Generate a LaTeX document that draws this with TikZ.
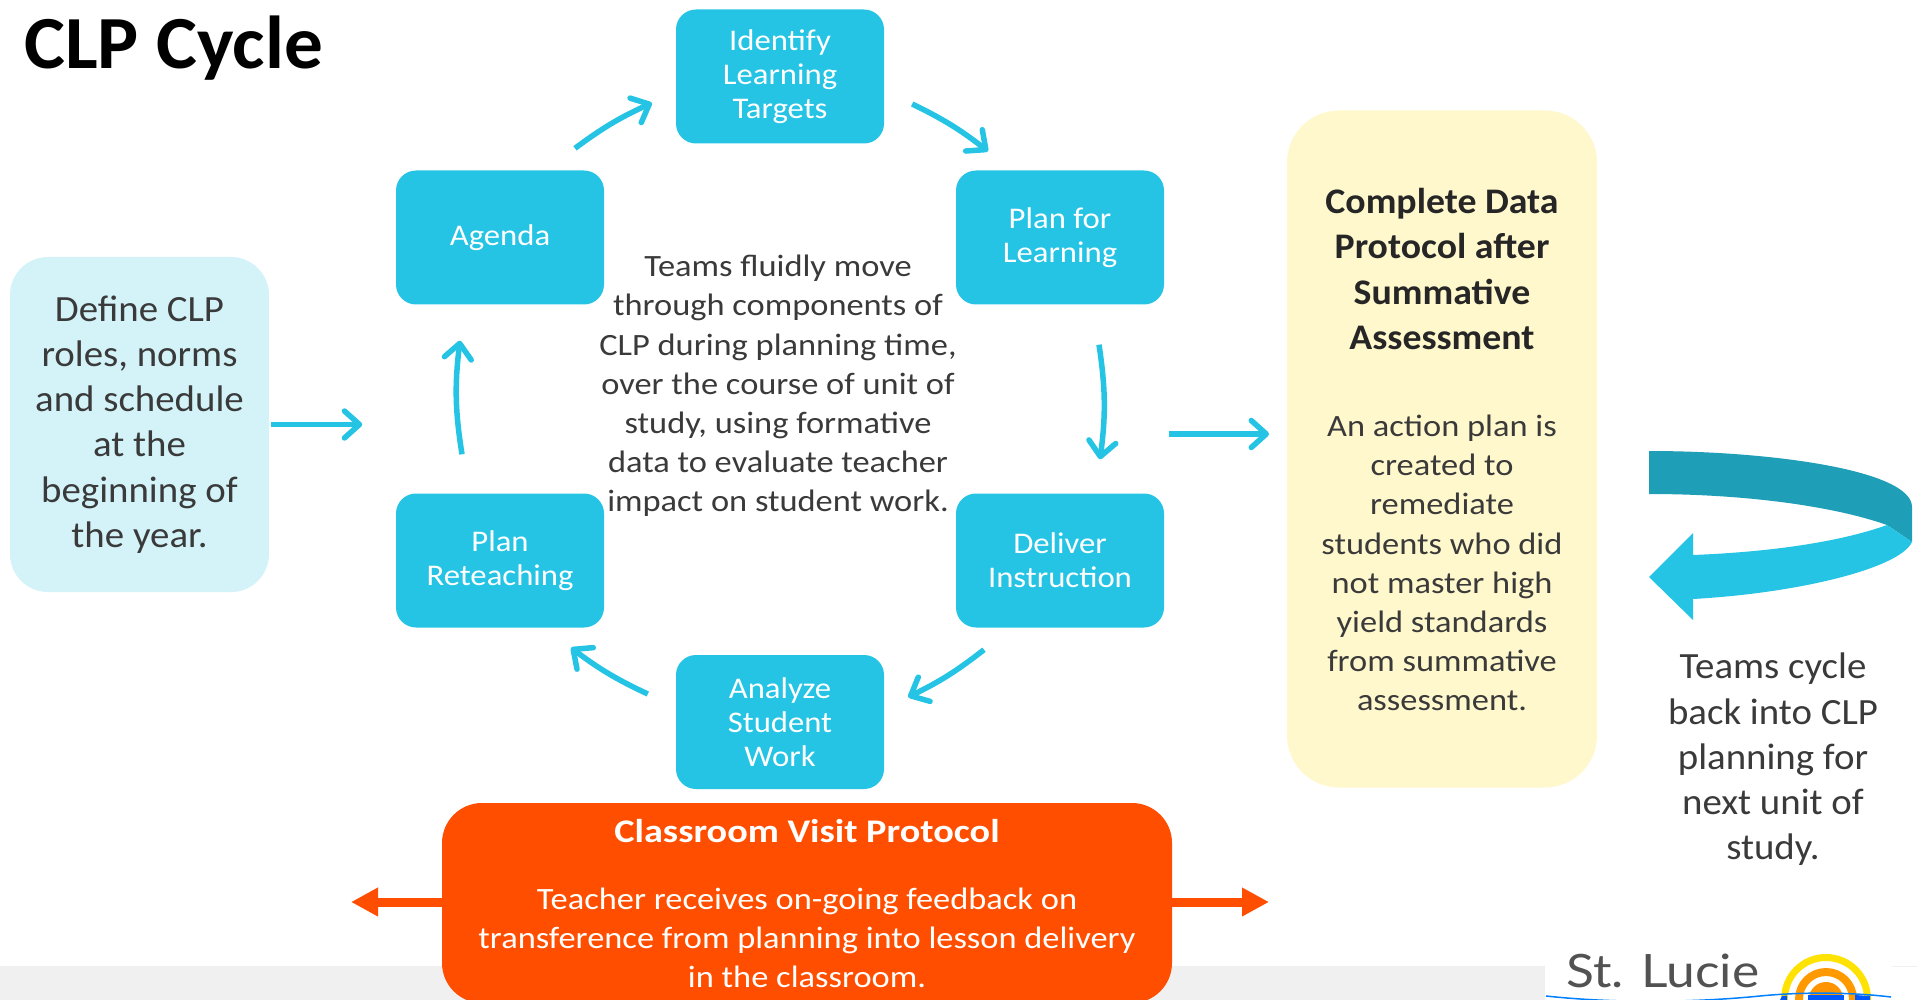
\documentclass[tikz,border=0pt]{standalone}
\usepackage{fontspec}
\setmainfont{Carlito}
\newfontfamily\fnine[FakeStretch=1.09]{Carlito}
\newfontfamily\ften[FakeStretch=1.11]{Carlito}
\newfontfamily\ffive[FakeStretch=1.05]{Carlito}
\newfontfamily\fthree[FakeStretch=1.03]{Carlito}
\newfontfamily\fsix[FakeStretch=1.16]{Carlito}
\newfontfamily\flogo[FakeStretch=1.12]{Lato}
\usetikzlibrary{arrows.meta,calc}
\definecolor{cyanb}{HTML}{25C4E4}
\definecolor{darkb}{HTML}{1F9EB7}
\definecolor{paleb}{HTML}{D3F3F9}
\definecolor{paley}{HTML}{FFF8CC}
\definecolor{orng}{HTML}{FF4E00}
\definecolor{band}{HTML}{F0F0F0}
\definecolor{txt}{HTML}{3A3A3A}
\tikzset{
 cyclebox/.style={fill=cyanb,rounded corners=20pt,minimum width=208pt,minimum height=134pt,align=center,text=white,font=\fnine\fontsize{30}{34}\selectfont,inner sep=0pt},
 cycletxt/.style={yshift=-1pt},
 arr/.style={draw=cyanb,line width=5.5pt,-{Straight Barb[length=15pt,width=27pt,line width=5.5pt,round]}},
 oarr/.style={draw=orng,line width=9pt,-{Triangle[length=27pt,width=27pt]}},
 body/.style={align=center,text=txt,inner sep=0pt,font=\ften\fontsize{31}{39.2}\selectfont},
 big/.style={align=center,text=txt,inner sep=0pt,font=\ffive\fontsize{37}{45.2}\selectfont},
}
\begin{document}
\begin{tikzpicture}[x=1pt,y=-1pt]
\useasboundingbox (0,0) rectangle (1917,1000);
\fill[white] (0,0) rectangle (1917,1000);
\fill[band] (0,966) rectangle (1917,1000);
\fill[white] (1545,966) rectangle (1892,1000);
\fill[white] (1892,967) rectangle (1917,1000);
% title
\node[anchor=west,inner sep=0pt,font=\fthree\fontsize{75}{77}\selectfont\bfseries,text=black] (title) at (24,48) {CLP Cycle};
% cycle boxes
\node[cyclebox] (identify) at (780,76.5) {\raisebox{-1pt}{\parbox{208pt}{\centering Identify\\Learning\\Targets}}};
\node[cyclebox] (plan) at (1060,237.5) {\raisebox{-1pt}{\parbox{208pt}{\centering Plan for\\Learning}}};
\node[cyclebox] (agenda) at (500,237.5) {\raisebox{-1pt}{Agenda}};
\node[cyclebox] (reteach) at (500,560.5) {\raisebox{-1pt}{\parbox{208pt}{\centering Plan\\Reteaching}}};
\node[cyclebox] (deliver) at (1060,560.5) {Deliver\\Instruction};
\node[cyclebox] (analyze) at (780,722) {Analyze\\Student\\Work};
% centre text
\node[body] (centre) at (778,386) {Teams fluidly move\\through components of\\CLP during planning time,\\over the course of unit of\\study, using formative\\data to evaluate teacher\\impact on student work.};
% define
\node[big,fill=paleb,rounded corners=38pt,minimum width=259pt,minimum height=335pt] (define) at (139.5,424.5) {Define CLP\\roles, norms\\and schedule\\at the\\beginning of\\the year.};
% yellow
\node[fill=paley,rounded corners=52pt,minimum width=310pt,minimum height=677pt,inner sep=0pt] (yellow) at (1442,449) {};
\node[big,font=\ffive\fontsize{36}{45.2}\selectfont\bfseries,text=black!85] (ytitle) at (1442,269) {Complete Data\\Protocol after\\Summative\\Assessment};
\node[body] (ybody) at (1442,563) {An action plan is\\created to\\remediate\\students who did\\not master high\\yield standards\\from summative\\assessment.};
% teams cycle
\node[big] (cycletext) at (1773,759.5) {Teams cycle\\back into CLP\\planning for\\next unit of\\study.};
% curved arrow
\fill[darkb] (1649,451) .. controls (1770,451) and (1912,470) .. (1912,507) -- (1912,542) -- (1887,525) .. controls (1830,505) and (1740,494) .. (1649,494) -- cycle;
\fill[cyanb] (1887,525) -- (1912,542) .. controls (1900,568) and (1800,593) .. (1693,599) -- (1693,620) -- (1649,577) -- (1693,533) -- (1693,555) .. controls (1770,552) and (1840,542) .. (1887,525) -- cycle;
% orange
\begin{scope}
\clip (0,0) rectangle (1917,1000);
\node[fill=orng,rounded corners=40pt,minimum width=730pt,minimum height=200pt,inner sep=0pt] (orange) at (807,903) {};
\end{scope}
\node[text=white,inner sep=0pt,font=\fsix\fontsize{33}{36}\selectfont\bfseries] (otitle) at (807,831) {Classroom Visit Protocol};
\node[text=white,align=center,inner sep=0pt,font=\ften\fontsize{31}{39.2}\selectfont] (obody) at (807,938) {Teacher receives on-going feedback on\\transference from planning into lesson delivery\\in the classroom.};
\coordinate (oleft) at (351,902);
\coordinate (oright) at (1269,902);
\draw[oarr] (orange.west|-oleft) -- (oleft);
\draw[oarr] (orange.east|-oright) -- (oright);
% cycle arrows
\draw[arr] ([xshift=75pt,yshift=22pt]agenda.north) to[bend left=6] ([xshift=-24pt,yshift=-26.5pt]identify.west);
\draw[arr] ([xshift=28pt,yshift=-27.5pt]identify.east) to[bend left=6] ([xshift=-72pt,yshift=19pt]plan.north);
\draw[arr] ([xshift=39pt,yshift=-40pt]plan.south) to[bend left=8] ([xshift=40pt,yshift=34pt]deliver.north);
\draw[arr] ([xshift=-76pt,yshift=-22pt]deliver.south) to[bend left=6] ([xshift=24pt,yshift=25pt]analyze.east);
\draw[arr] ([xshift=-28pt,yshift=28pt]analyze.west) to[bend left=6] ([xshift=71pt,yshift=-20pt]reteach.south);
\draw[arr] ([xshift=-38pt,yshift=39pt]reteach.north) to[bend left=8] ([xshift=-40pt,yshift=-36pt]agenda.south);
\draw[arr] (define.east) ++(2pt,0pt) -- ++(91pt,0pt) coordinate (defend);
\coordinate (yin) at (1269,434);
\draw[arr] (yin-|1169,0) -- (yin);
% logo
\node[anchor=base west,inner sep=0pt,text=black!68,font=\flogo\fontsize{46}{46}\selectfont] (logo) at (1566,987) {St. Lucie};
\begin{scope}
\clip (1730,940) rectangle (1917,1000);
\draw[draw=yellow!85!orange,line width=7pt] (1826,999) circle (41.5pt);
\draw[draw=orange!80!yellow,line width=8pt] (1826,999) circle (27pt);
\fill[orange!85!yellow] (1826,999) circle (17pt);
\fill[blue!65!cyan] (1780,1000) -- (1782,996) -- (1787,995.5) -- (1787,1000) -- cycle;
\fill[blue!65!cyan] (1808,1000) -- (1808,995) -- (1844,995) -- (1844,1000) -- cycle;
\fill[blue!65!cyan] (1855,1000) -- (1855,995) -- (1870,996) -- (1870,1000) -- cycle;
\end{scope}
\draw[draw=blue!50!cyan,line width=1.5pt] (1546,996) .. controls (1620,1004) and (1700,1002) .. (1760,996) .. controls (1800,992) and (1850,992) .. (1891,997);
\end{tikzpicture}
\end{document}
